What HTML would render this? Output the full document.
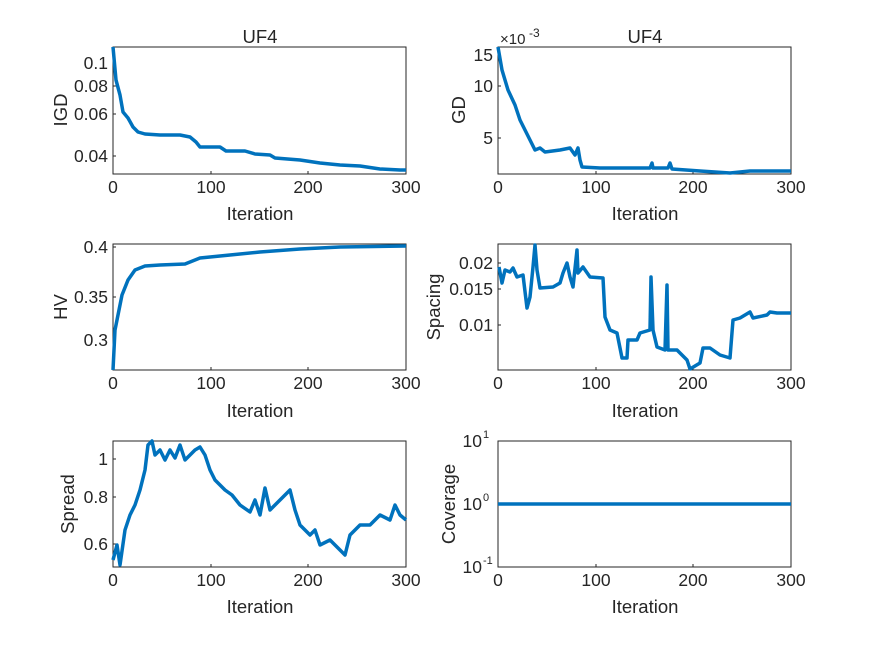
<!DOCTYPE html><html><head><style>body{margin:0;background:#fff}text{font-family:"Liberation Sans",sans-serif;fill:#262626}</style></head><body>
<svg width="875" height="656" xmlns="http://www.w3.org/2000/svg">
<rect width="875" height="656" fill="#fff"/>
<g font-size="17.5" text-anchor="middle">
<g fill="#fff" stroke="#262626" stroke-width="1">
<rect x="113" y="47" width="293" height="127"/><rect x="498" y="47" width="293" height="127"/>
<rect x="113" y="244" width="293" height="126"/><rect x="498" y="244" width="293" height="126"/>
<rect x="113" y="441" width="293" height="126"/><rect x="498" y="441" width="293" height="126"/>
</g>
<g stroke="#262626">
<path d="M113,174v-3M211,174v-3M308,174v-3M406,174v-3M498,174v-3M596,174v-3M693,174v-3M791,174v-3M113,370v-3M211,370v-3M308,370v-3M406,370v-3M498,370v-3M596,370v-3M693,370v-3M791,370v-3M113,567v-3M211,567v-3M308,567v-3M406,567v-3M498,567v-3M596,567v-3M693,567v-3M791,567v-3M113,63h3M113,86h3M113,114h3M113,156h3M498,55h3M498,86h3M498,138h3M113,247h3M113,297h3M113,340h3M498,263h3M498,289h3M498,325h3M113,459h3M113,497h3M113,544h3M498,441h3M498,504h3M498,567h3"/>
</g>
<g>
<text x="113" y="193">0</text><text x="211" y="193">100</text><text x="308" y="193">200</text><text x="406" y="193">300</text>
<text x="498" y="193">0</text><text x="596" y="193">100</text><text x="693" y="193">200</text><text x="791" y="193">300</text>
<text x="113" y="389">0</text><text x="211" y="389">100</text><text x="308" y="389">200</text><text x="406" y="389">300</text>
<text x="498" y="389">0</text><text x="596" y="389">100</text><text x="693" y="389">200</text><text x="791" y="389">300</text>
<text x="113" y="586">0</text><text x="211" y="586">100</text><text x="308" y="586">200</text><text x="406" y="586">300</text>
<text x="498" y="586">0</text><text x="596" y="586">100</text><text x="693" y="586">200</text><text x="791" y="586">300</text>
</g>
<g font-size="18.5">
<text x="260" y="220">Iteration</text><text x="645" y="220">Iteration</text>
<text x="260" y="417">Iteration</text><text x="645" y="417">Iteration</text>
<text x="260" y="613">Iteration</text><text x="645" y="613">Iteration</text>
<text x="260" y="43">UF4</text><text x="645" y="43">UF4</text>
<text transform="translate(67,110) rotate(-90)">IGD</text>
<text transform="translate(465,110) rotate(-90)">GD</text>
<text transform="translate(67,307) rotate(-90)">HV</text>
<text transform="translate(440,307) rotate(-90)">Spacing</text>
<text transform="translate(74,504) rotate(-90)">Spread</text>
<text transform="translate(455,504) rotate(-90)">Coverage</text>
</g>
<g text-anchor="end">
<text x="108" y="69">0.1</text><text x="108" y="92">0.08</text><text x="108" y="120">0.06</text><text x="108" y="162">0.04</text>
<text x="493" y="61">15</text><text x="493" y="92">10</text><text x="493" y="144">5</text>
<text x="108" y="253">0.4</text><text x="108" y="303">0.35</text><text x="108" y="346">0.3</text>
<text x="493" y="269">0.02</text><text x="493" y="295">0.015</text><text x="493" y="331">0.01</text>
<text x="108" y="465">1</text><text x="108" y="503">0.8</text><text x="108" y="550">0.6</text>
<text x="482" y="447">10</text><text x="482" y="510">10</text><text x="482" y="573">10</text>
</g>
<g font-size="11" text-anchor="start"><text x="483" y="438">1</text><text x="483" y="501">0</text><text x="483" y="564">-1</text>
<text x="500" y="44" font-size="15">×10</text><text x="529" y="37" font-size="12">-3</text></g>
</g>
<g fill="none" stroke="#0072BD" stroke-width="3.5" stroke-linejoin="round">
<polyline points="113,47 116,80 120,95 123,112 128,118 133,127 138,132 145,134 160,135 180,135 190,137 196,142 200,147 210,147 220,147 226,151 245,151 255,154 270,155 275,158 300,160 320,163 340,165 360,166 380,169 400,170 406,170"/>
<polyline points="498,47 502,70 508,90 515,105 520,120 525,130 530,140 535,150 540,148 545,152 560,150 570,148 575,155 578,148 580,160 582,167 600,168 650,168 652,163 653,168 668,168 670,163 672,169 700,171 730,173 750,171 791,171"/>
<polyline points="113,370 115,330 118,315 122,295 128,280 135,270 145,266 160,265 185,264 200,258 230,255 260,252 300,249 340,247 406,246"/>
<polyline points="499,267 502,283 505,270 510,272 513,268 517,277 523,275 527,308 530,297 533,267 535,245 537,270 540,288 553,287 560,283 563,273 567,263 570,277 573,287 577,250 578,273 583,267 590,277 603,278 605,317 610,330 617,333 622,358 627,358 628,340 637,340 640,333 650,330 651,277 653,330 657,347 665,350 667,285 668,350 677,350 687,360 690,369 700,363 703,348 710,348 720,355 730,358 733,320 740,318 750,312 753,318 767,315 770,312 777,313 791,313"/>
<polyline points="113,560 117,545 120,565 125,530 130,515 135,505 140,490 145,470 148,445 152,441 155,455 160,450 165,460 170,450 175,458 180,445 185,460 195,450 200,447 205,455 210,470 215,480 225,490 232,495 240,505 250,512 255,500 260,515 265,488 270,510 280,500 290,490 295,510 300,525 310,535 315,530 320,545 330,540 340,550 345,555 350,535 360,525 370,525 380,515 390,520 395,505 400,515 406,520"/>
<line x1="498" y1="504" x2="791" y2="504"/>
</g>
</svg>
</body></html>
